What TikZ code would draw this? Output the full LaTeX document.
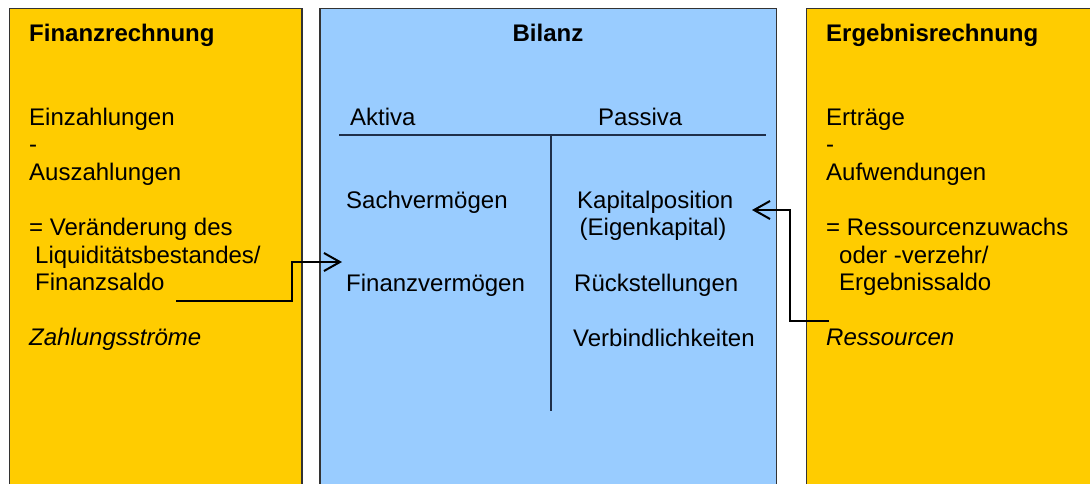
\documentclass[tikz,border=0pt]{standalone}
\usepackage{fontspec}
\setmainfont{Liberation Sans}
\usetikzlibrary{arrows.meta}
\definecolor{boxyellow}{HTML}{FFCC00}
\definecolor{boxblue}{HTML}{99CCFF}
\definecolor{edgegray}{HTML}{333333}
\definecolor{tline}{HTML}{1F2F4A}
\tikzset{
  panel/.style={draw=edgegray, line width=1.8pt},
  txt/.style={anchor=base west, inner sep=0pt, font=\fontsize{24}{27.6}\selectfont},
  ttl/.style={txt, font=\fontsize{24}{27.6}\selectfont\bfseries},
  itl/.style={txt, font=\fontsize{24}{27.6}\selectfont\itshape},
  tacct/.style={draw=tline, line width=2pt},
  flow/.style={draw=black, line width=2pt, -{Straight Barb[length=16pt, width=18pt, line width=2pt]}}
}
\begin{document}
\begin{tikzpicture}[x=1pt, y=-1pt]
\useasboundingbox (0,0) rectangle (1090,483);
\fill[white] (0,0) rectangle (1090,483);
\clip (0,0) rectangle (1090,483);
% panels
\draw[panel, fill=boxyellow] (9.5,8.5) rectangle (302,500);
\draw[panel, fill=boxblue] (320,8.5) rectangle (776.5,500);
\draw[panel, fill=boxyellow] (806.5,8.5) rectangle (1100,500);

% left panel texts
\node[ttl] (fr) at (29,41) {Finanzrechnung};
\node[txt] (ein) at (29,125) {Einzahlungen};
\node[txt] (m1) at (29,152.6) {-};
\node[txt] (aus) at (29,180.2) {Auszahlungen};
\node[txt] (ver) at (29,235.4) {= Veränderung des};
\node[txt] (liq) at (35,263) {Liquiditätsbestandes/};
\node[txt] (fs) at (35,290.6) {Finanzsaldo};
\node[itl] (zs) at (29,345.8) {Zahlungsströme};

% middle panel texts
\node[ttl, anchor=base] (bil) at (548,41) {Bilanz};
\node[txt] (akt) at (350,125) {Aktiva};
\node[txt] (pas) at (598,125) {Passiva};
\node[txt] (sach) at (346,208) {Sachvermögen};
\node[txt] (fin) at (346,291) {Finanzvermögen};
\node[txt] (kap) at (577,208) {Kapitalposition};
\node[txt] (eig) at (579.5,235.6) {(Eigenkapital)};
\node[txt] (rue) at (574,291) {Rückstellungen};
\node[txt] (vb) at (573,346) {Verbindlichkeiten};

% T-account
\coordinate (hl) at (339,135);
\coordinate (hr) at (766,135);
\coordinate (vt) at (551,135);
\coordinate (vb2) at (551,411);
\draw[tacct] (hl) -- (hr);
\draw[tacct] (vt) -- (vb2);

% right panel texts
\node[ttl] (er) at (826,41) {Ergebnisrechnung};
\node[txt] (ert) at (826,125) {Erträge};
\node[txt] (m2) at (826,152.6) {-};
\node[txt] (auf) at (826,180.2) {Aufwendungen};
\node[txt] (rz) at (826,235.4) {= Ressourcenzuwachs};
\node[txt] (odv) at (839,263) {oder -verzehr/};
\node[txt] (es) at (839,290.6) {Ergebnissaldo};
\node[itl] (res) at (826,345.8) {Ressourcen};

% connectors
\coordinate (a1) at (176,300.5);
\coordinate (a2) at (342,262);
\draw[flow] (a1) -- (292,300.5) -- (292,262) -- (a2);
\coordinate (b1) at (829,320.5);
\coordinate (b2) at (752,210);
\draw[flow] (b1) -- (790,320.5) -- (790,210) -- (b2);
\end{tikzpicture}
\end{document}
